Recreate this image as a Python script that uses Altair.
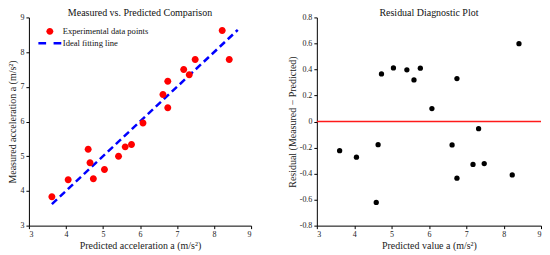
import altair as alt
import pandas as pd

# ---- data ----
pred_acc = [3.62, 4.06, 4.60, 4.65, 4.74, 5.04, 5.42, 5.60, 5.77, 6.08,
            6.62, 6.75, 6.75, 7.18, 7.33, 7.49, 8.22, 8.41]
meas_acc = [3.83, 4.32, 5.20, 4.81, 4.35, 4.62, 5.00, 5.27, 5.34, 5.96,
            6.78, 7.16, 6.40, 7.50, 7.35, 7.79, 8.62, 7.79]
fit_x = [3.62, 8.64]
fit_y = [3.62, 8.64]

res_pred = [3.61, 4.06, 4.59, 4.64, 4.73, 5.05, 5.41, 5.60, 5.77, 6.08,
            6.62, 6.75, 6.75, 7.18, 7.33, 7.48, 8.23, 8.41]
res_val = [-0.224, -0.274, -0.622, -0.178, 0.366, 0.412, 0.397, 0.32, 0.41, 0.10,
           -0.18, 0.33, -0.435, -0.33, -0.055, -0.323, -0.41, 0.598]
zero_line = [0.0]

x_ticks = [3, 4, 5, 6, 7, 8, 9]
y_ticks_left = [3, 4, 5, 6, 7, 8, 9]
y_ticks_res = [-0.8, -0.6, -0.4, -0.2, 0, 0.2, 0.4, 0.6, 0.8]
legend_labels = ["Experimental data points", "Ideal fitting line"]

FONT = "Liberation Serif"

pts = pd.DataFrame({"pred": pred_acc, "meas": meas_acc, "series": legend_labels[0]})
fit = pd.DataFrame({"pred": fit_x, "meas": fit_y})
res = pd.DataFrame({"pred": res_pred, "res": res_val})
zero = pd.DataFrame({"res": zero_line})

circle_path = "M0,-0.7A0.7,0.7 0 1,1 0,0.7A0.7,0.7 0 1,1 0,-0.7Z"
dash_path = "M-2.3,-0.25H-0.75V0.25H-2.3Z M0.75,-0.25H2.3V0.25H0.75Z"

xscale = alt.Scale(domain=[3, 9], nice=False, zero=False)
yscale = alt.Scale(domain=[3, 9], nice=False, zero=False)
rscale = alt.Scale(domain=[-0.8, 0.8], nice=False, zero=False)

leg = alt.Legend(title=None, orient="none", legendX=16, legendY=9, padding=0,
                 symbolSize=100, labelOffset=8, rowPadding=2,
                 labelFont=FONT, labelFontSize=8.6, labelColor="#111",
                 symbolStrokeWidth=0, symbolOpacity=1)

x_left = alt.X("pred:Q", scale=xscale,
               axis=alt.Axis(title="Predicted acceleration a (m/s²)", values=x_ticks))
y_left = alt.Y("meas:Q", scale=yscale,
               axis=alt.Axis(title="Measured acceleration a (m/s²)", values=y_ticks_left))

line = alt.Chart(fit).mark_line(color="#0000ff", strokeWidth=2.5, strokeDash=[7, 4]).encode(
    x=x_left, y=y_left)

points = alt.Chart(pts).mark_point(filled=True, size=100, opacity=1, strokeWidth=0).encode(
    x=x_left, y=y_left,
    color=alt.Color("series:N", scale=alt.Scale(domain=legend_labels, range=["#ff0000", "#0000ff"]), legend=leg),
    shape=alt.Shape("series:N", scale=alt.Scale(domain=legend_labels, range=[circle_path, dash_path]), legend=leg),
)

left = alt.layer(line, points).properties(
    width=223, height=209, title="Measured vs. Predicted Comparison")

x_right = alt.X("pred:Q", scale=xscale,
                axis=alt.Axis(title="Predicted value a (m/s²)", values=x_ticks))
y_right = alt.Y("res:Q", scale=rscale,
                axis=alt.Axis(title="Residual (Measured − Predicted)", values=y_ticks_res,
                              labelExpr="datum.value == 0 ? '0' : replace(format(datum.value, '.1f'), '\u2212', '-')"))

rule = alt.Chart(zero).mark_rule(color="#ff1a1a", strokeWidth=1.5).encode(y=y_right)
rpts = alt.Chart(res).mark_circle(color="black", size=28, opacity=1).encode(x=x_right, y=y_right)

right = alt.layer(rule, rpts).properties(
    width=225, height=209, title="Residual Diagnostic Plot")

chart = alt.hconcat(left, right, spacing=35).properties(padding=0).configure_view(
    stroke=None
).configure_axis(
    grid=False, domainColor="black", tickColor="black", domainWidth=1, tickWidth=1,
    tickSize=3, labelPadding=2, titlePadding=2,
    labelFont=FONT, titleFont=FONT, labelFontSize=8, titleFontSize=10,
    titleFontWeight="normal", labelColor="#222", titleColor="#222"
).configure_title(
    font=FONT, fontSize=10, fontWeight="normal", color="#111", anchor="middle", offset=-5
)

chart.save("out.html", embed_options={"renderer": "svg", "actions": False})
